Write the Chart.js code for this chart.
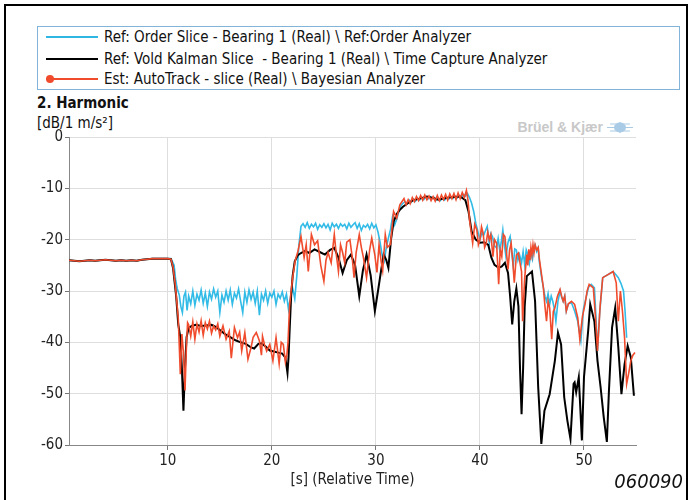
<!DOCTYPE html>
<html>
<head>
<meta charset="utf-8">
<script src="https://cdn.jsdelivr.net/npm/chart.js@4.4.0/dist/chart.umd.min.js"></script>
<style>
  body { margin: 0; background: #fff; font-family: 'DejaVu Sans Condensed', 'DejaVu Sans', sans-serif; color: #111; }
  #page { position: relative; width: 691px; height: 500px; overflow: hidden; background: #fff; }
  #frame { position: absolute; left: 4px; top: 4px; width: 680px; height: 540px; border: 2px solid #000; }
  #legend { position: absolute; left: 37px; top: 26px; width: 641px; height: 62px; border: 1.5px solid #82b4d9; }
  .row { position: absolute; left: 0; right: 0; height: 20px; font-size: 15px; line-height: 20px; white-space: pre; }
  .swatch { position: absolute; left: 8px; top: 9px; width: 52px; height: 2px; }
  .dot { position: absolute; left: 8px; top: 6px; width: 8px; height: 8px; border-radius: 50%; background: #ef4b2c; }
  .label { position: absolute; left: 66px; top: 0; }
  #title { position: absolute; left: 37px; top: 93px; font-size: 15px; font-weight: bold; line-height: 20px; }
  #unit { position: absolute; left: 37px; top: 113px; font-size: 15px; line-height: 20px; }
  #logo { position: absolute; left: 500px; top: 119px; width: 103px; text-align: right; font-family: 'Liberation Sans', sans-serif; font-weight: bold; font-size: 14px; line-height: 17px; color: #c8c8c8; }
  #logoMark { position: absolute; left: 607px; top: 122px; }
  #chartBox { position: absolute; left: 0; top: 126px; width: 691px; height: 374px; }
  #code { position: absolute; right: 8px; top: 468px; font-size: 20px; font-style: italic; line-height: 26px; }
</style>
</head>
<body>
<div id="page">
  <div id="frame"></div>
  <div id="legend">
    <div class="row" style="top:0px"><div class="swatch" style="background:#2db7e2"></div><span class="label">Ref: Order Slice - Bearing 1 (Real) \ Ref:Order Analyzer</span></div>
    <div class="row" style="top:21.5px"><div class="swatch" style="background:#000"></div><span class="label">Ref: Vold Kalman Slice  - Bearing 1 (Real) \ Time Capture Analyzer</span></div>
    <div class="row" style="top:42px"><div class="swatch" style="background:#ef4b2c"></div><div class="dot"></div><span class="label">Est: AutoTrack - slice (Real) \ Bayesian Analyzer</span></div>
  </div>
  <div id="title">2. Harmonic</div>
  <div id="unit">[dB/1 m/s²]</div>
  <div id="logo">Brüel &amp; Kjær</div>
  <svg id="logoMark" width="26" height="11" viewBox="0 0 26 11">
    <ellipse cx="13" cy="5.5" rx="6" ry="5" fill="#a9cbe6"/>
    <path d="M0 5.5H26M3 2H23M3 9H23M13 0V11" stroke="#a9cbe6" stroke-width="1.2"/>
  </svg>
  <div id="chartBox"><canvas id="harmonicChart"></canvas></div>
  <div id="code">060090</div>
</div>

<script>
// steady part before the run-down, shared by all three traces
const flatTime = [0.5, 1, 1.5, 2, 2.5, 3, 3.5, 4, 4.5, 5, 5.5, 6, 6.5, 7, 7.5, 8, 8.5, 9, 9.5, 10];
const flatDb = [-24.0, -24.1, -24.2, -24.1, -24.0, -24.1, -24.0, -23.9, -24.0, -24.1, -24.0, -24.1, -24.0, -24.1, -23.9, -23.8, -23.7, -23.7, -23.7, -23.7];

// Ref: Order Slice (cyan)
const orderTime = [
  10.3, 10.6, 10.75, 10.9, 11.1, 11.25, 11.4, 11.55, 11.7, 11.85,
  12.0, 12.2, 12.4, 12.6, 12.8, 13.0, 13.2, 13.4, 13.6, 13.8,
  14.0, 14.2, 14.4, 14.6, 14.8, 15.0, 15.2, 15.4, 15.6, 15.8,
  16.0, 16.2, 16.4, 16.6, 16.8, 17.0, 17.2, 17.4, 17.6, 17.8,
  18.0, 18.2, 18.4, 18.6, 18.8, 19.0, 19.2, 19.4, 19.6, 19.8,
  20.0, 20.2, 20.4, 20.6, 20.8, 21.0, 21.2, 21.4, 21.6, 21.8,
  22.0, 22.2, 22.4, 22.6, 22.8, 23.0, 23.2, 23.4, 23.6, 23.8,
  24.0, 24.2, 24.4, 24.6, 24.8, 25.0, 25.2, 25.4, 25.6, 25.8,
  26.0, 26.2, 26.4, 26.6, 26.8, 27.0, 27.2, 27.4, 27.6, 27.8,
  28.0, 28.2, 28.4, 28.6, 28.8, 29.0, 29.2, 29.4, 29.6, 29.8,
  30.0, 30.2, 30.4, 30.6, 30.8, 31.0, 31.2, 31.4, 31.6, 31.8,
  32.0, 32.2, 32.4, 32.6, 32.8, 33.0, 33.2, 33.4, 33.6, 33.8,
  34.0, 34.2, 34.4, 34.6, 34.8, 35.0, 35.2, 35.4, 35.6, 35.8,
  36.0, 36.2, 36.4, 36.6, 36.8, 37.0, 37.2, 37.4, 37.6, 37.8,
  38.0, 38.2, 38.4, 38.6, 38.8, 39.0, 39.2, 39.4, 39.6, 39.8,
  40.0, 40.2, 40.35, 40.5, 40.7, 40.9, 41.05, 41.2, 41.4, 41.6,
  41.75, 41.9, 42.05, 42.2, 42.35, 42.5, 42.7, 42.9, 43.05, 43.2,
  43.35, 43.5, 43.65, 43.8, 44.0, 44.15, 44.3, 44.45, 44.6, 44.75,
  44.9, 45.05, 45.2, 45.3, 45.45, 45.6, 45.7, 45.9, 46.1, 46.25,
  46.4, 46.55, 46.7, 46.85, 47.0, 47.15, 47.3, 47.5, 47.7, 47.85,
  48.0, 48.15, 48.3, 48.5, 48.8, 49.1, 49.4, 49.7, 49.95, 50.2,
  50.45, 50.7, 51.0, 51.15, 51.3, 51.5, 51.8, 52.3, 52.8, 53.05,
  53.3, 53.55, 53.8, 53.95, 54.1
];
const orderDb = [
  -23.7, -25.0, -27.8, -29.5, -30.8, -33.0, -34.2, -31.0, -30.2, -33.8,
  -31.0, -32.5, -30.0, -32.8, -30.6, -31.8, -29.8, -32.4, -30.4, -33.0,
  -30.2, -31.6, -29.6, -31.2, -30.0, -34.2, -30.8, -32.2, -30.0, -31.8,
  -29.8, -32.6, -30.4, -31.4, -29.6, -32.0, -34.2, -30.2, -32.2, -29.8,
  -31.6, -30.2, -32.4, -30.0, -34.7, -30.6, -31.8, -30.0, -32.4, -30.4,
  -31.2, -30.0, -32.6, -30.6, -31.4, -30.2, -32.0, -30.6, -33.6, -31.0,
  -29.5, -31.5, -27.0, -21.0, -17.4, -16.9, -17.6, -16.7, -17.8, -17.0,
  -17.5, -16.8, -18.0, -17.1, -17.6, -16.9, -17.7, -17.0, -18.1, -16.8,
  -17.5, -17.0, -17.8, -16.9, -17.4, -17.0, -17.9, -16.8, -17.6, -17.1,
  -16.7, -17.8, -16.9, -18.2, -17.2, -17.6, -17.0, -17.9, -16.8, -17.7,
  -17.1, -18.5, -20.5, -23.0, -24.2, -21.5, -19.7, -18.0, -15.5, -17.1,
  -16.0, -14.5, -13.4, -12.9, -12.6, -13.0, -12.3, -12.7, -12.1, -12.5,
  -11.9, -12.3, -11.8, -12.2, -11.7, -12.1, -11.6, -12.0, -11.8, -12.3,
  -12.0, -12.4, -11.9, -12.3, -11.8, -12.1, -11.6, -12.0, -11.5, -11.9,
  -11.4, -11.8, -11.2, -11.5, -11.0, -11.8, -12.9, -14.5, -16.8, -18.4,
  -20.0, -18.6, -19.2, -18.4, -17.4, -20.7, -18.8, -19.4, -21.2, -21.6,
  -19.8, -22.0, -20.5, -18.1, -21.0, -23.3, -20.5, -19.4, -22.5, -25.2,
  -21.8, -22.0, -24.0, -22.9, -24.5, -22.3, -24.9, -22.0, -22.9, -24.6,
  -22.6, -23.8, -21.4, -21.0, -22.3, -21.6, -24.2, -27.0, -29.4, -31.0,
  -32.0, -30.5, -32.6, -31.0, -32.0, -33.5, -35.9, -32.0, -30.0, -31.2,
  -32.0, -31.0, -33.9, -32.5, -32.3, -33.9, -35.9, -39.7, -33.5, -31.3,
  -29.2, -28.7, -29.4, -35.0, -41.7, -34.5, -27.4, -26.8, -26.2, -26.8,
  -27.4, -28.5, -30.0, -34.0, -39.1
];

// Ref: Vold Kalman Slice (black)
const kalmanTime = [
  10.3, 10.5, 10.8, 11.0, 11.2, 11.35, 11.5, 11.65, 11.8, 12.0,
  12.3, 12.7, 13.2, 13.7, 14.2, 14.6, 15.0, 15.5, 16.0, 16.5,
  17.0, 17.5, 18.0, 18.3, 18.7, 19.0, 19.4, 19.8, 20.2, 20.6,
  21.0, 21.3, 21.5, 21.6, 21.7, 21.85, 22.0, 22.2, 22.5, 22.8,
  23.2, 23.6, 24.1, 24.6, 25.1, 25.6, 26.0, 26.4, 26.8, 27.2,
  27.6, 28.0, 28.4, 28.75, 29.1, 29.5, 29.9, 30.2, 30.5, 30.75,
  31.0, 31.2, 31.45, 31.7, 32.0, 32.3, 32.6, 33.0, 33.6, 34.2,
  34.9, 35.5, 36.0, 36.5, 37.0, 37.5, 38.1, 38.6, 38.9, 39.2,
  39.6, 40.0, 40.4, 40.8, 41.1, 41.4, 41.8, 42.1, 42.4, 42.7,
  42.9, 43.1, 43.3, 43.5, 43.7, 43.85, 44.0, 44.15, 44.3, 44.5,
  45.0, 45.3, 45.6, 45.9, 46.2, 46.7, 47.2, 47.5, 47.8, 48.1,
  48.4, 48.7, 49.0, 49.1, 49.25, 49.5, 49.8, 50.0, 50.4, 50.6,
  51.0, 51.3, 51.6, 51.9, 52.2, 52.4, 52.7, 53.0, 53.3, 53.6,
  53.9, 54.2, 54.5, 54.8
];
const kalmanDb = [
  -23.8, -25.5, -31.0, -36.5, -39.0, -45.0, -53.3, -45.0, -39.0, -37.2,
  -36.8, -36.6, -36.8, -36.7, -36.6, -37.0, -37.6, -38.4, -39.0, -39.6,
  -40.0, -40.3, -41.0, -41.2, -40.3, -40.2, -40.8, -41.6, -41.8, -42.0,
  -42.2, -43.0, -46.0, -43.0, -38.0, -31.0, -27.0, -24.2, -23.0, -22.6,
  -22.2, -22.6, -21.9, -22.4, -22.9, -22.0, -21.6, -23.5, -26.5, -24.0,
  -22.9, -25.0, -31.0, -26.0, -22.9, -27.0, -33.9, -30.0, -26.0, -22.9,
  -24.0, -25.5, -20.0, -16.5, -15.0, -14.2, -13.6, -13.0, -12.3, -12.0,
  -11.6, -11.9, -12.2, -12.0, -11.8, -11.7, -11.6, -12.3, -14.5, -18.4,
  -20.0, -20.6, -20.5, -21.0, -23.5, -24.9, -25.5, -25.2, -24.5, -26.5,
  -31.0, -36.5, -32.0, -29.5, -33.0, -45.0, -54.0, -45.0, -33.0, -27.1,
  -26.2, -32.0, -48.8, -59.8, -53.3, -50.1, -43.6, -38.1, -40.4, -50.7,
  -55.2, -58.8, -48.1, -47.8, -49.7, -46.8, -59.1, -46.8, -37.8, -32.6,
  -35.9, -43.6, -48.8, -54.6, -59.4, -49.4, -37.1, -33.3, -41.0, -50.1,
  -44.3, -40.7, -42.9, -50.4
];

// Est: AutoTrack slice (red)
const autoTime = [
  10.3, 10.5, 10.7, 10.9, 11.0, 11.2, 11.35, 11.5, 11.65, 11.8,
  11.9, 12.0, 12.2, 12.4, 12.6, 12.8, 13.0, 13.2, 13.4, 13.6,
  13.8, 14.0, 14.2, 14.4, 14.6, 14.8, 15.0, 15.3, 15.6, 15.9,
  16.1, 16.4, 16.7, 16.9, 17.1, 17.4, 17.7, 18.0, 18.2, 18.5,
  18.8, 19.0, 19.1, 19.3, 19.5, 19.8, 20.1, 20.4, 20.7, 20.9,
  21.1, 21.3, 21.45, 21.55, 21.7, 21.85, 22.0, 22.25, 22.5, 22.8,
  23.1, 23.3, 23.5, 23.8, 24.1, 24.4, 24.7, 25.0, 25.2, 25.4,
  25.7, 26.0, 26.2, 26.4, 26.6, 26.8, 27.0, 27.2, 27.5, 27.7,
  27.9, 28.1, 28.4, 28.6, 28.8, 29.1, 29.4, 29.6, 29.9, 30.1,
  30.3, 30.5, 30.65, 30.9, 31.1, 31.4, 31.7, 32.0, 32.3, 32.5,
  32.7, 32.9, 33.1, 33.3, 33.5, 33.7, 33.9, 34.1, 34.3, 34.5,
  34.7, 34.9, 35.1, 35.3, 35.5, 35.7, 35.9, 36.1, 36.3, 36.5,
  36.7, 36.9, 37.1, 37.3, 37.5, 37.7, 37.9, 38.1, 38.3, 38.5,
  38.7, 38.85, 39.0, 39.3, 39.5, 39.7, 39.85, 40.0, 40.15, 40.3,
  40.45, 40.6, 40.75, 40.9, 41.05, 41.25, 41.4, 41.6, 41.8, 41.95,
  42.1, 42.25, 42.4, 42.55, 42.7, 42.85, 43.0, 43.15, 43.3, 43.5,
  43.7, 43.85, 44.0, 44.1, 44.3, 44.5, 44.6, 44.7, 44.8, 44.9,
  45.0, 45.1, 45.2, 45.3, 45.45, 45.6, 45.7, 45.9, 46.1, 46.25,
  46.4, 46.55, 46.7, 46.9, 47.05, 47.2, 47.45, 47.7, 47.85, 48.0,
  48.15, 48.3, 48.5, 48.8, 49.1, 49.4, 49.6, 49.85, 50.1, 50.3,
  50.5, 50.9, 51.1, 51.3, 51.55, 51.8, 52.3, 52.8, 53.1, 53.3,
  53.5, 53.7, 53.9, 54.1, 54.3, 54.5, 54.7, 54.9
];
const autoDb = [
  -23.8, -25.3, -28.5, -33.0, -35.2, -46.2, -38.4, -42.0, -49.4, -40.0,
  -36.2, -36.6, -38.8, -36.0, -39.4, -36.4, -38.0, -35.8, -38.6, -36.2,
  -37.4, -35.9, -38.2, -36.8, -37.6, -36.4, -38.8, -36.8, -39.4, -37.8,
  -43.1, -37.1, -39.1, -38.0, -41.7, -38.1, -43.3, -41.0, -39.0, -38.1,
  -39.7, -42.5, -38.8, -40.5, -41.7, -40.4, -43.6, -39.1, -44.2, -40.0,
  -40.4, -43.8, -42.3, -40.0, -33.0, -30.0, -27.4, -24.0, -22.3, -19.4,
  -23.5, -21.0, -26.2, -19.0, -21.0, -20.2, -25.0, -28.1, -24.0, -22.5,
  -24.5, -19.0, -23.0, -26.2, -21.0, -22.5, -24.5, -20.5, -20.0, -23.0,
  -27.4, -22.5, -19.0, -21.5, -23.5, -27.4, -22.0, -19.7, -23.0, -26.4,
  -21.0, -24.2, -26.0, -19.0, -21.5, -20.9, -14.5, -15.8, -13.2, -12.6,
  -12.0, -13.2, -12.2, -13.0, -11.8, -12.6, -11.6, -12.4, -11.4, -12.3,
  -11.3, -12.2, -11.5, -12.4, -11.6, -12.5, -11.4, -12.4, -11.3, -12.2,
  -11.2, -12.3, -11.1, -12.0, -11.0, -12.2, -10.9, -12.0, -10.8, -11.8,
  -10.4, -12.3, -16.2, -20.7, -17.0, -18.1, -21.0, -20.0, -17.5, -18.7,
  -21.5, -20.7, -18.5, -20.0, -19.0, -23.3, -20.0, -20.7, -28.7, -22.0,
  -23.3, -19.0, -19.4, -22.5, -25.8, -22.0, -20.7, -24.0, -28.4, -23.0,
  -22.6, -24.5, -26.2, -35.9, -27.5, -22.9, -25.0, -21.9, -24.0, -21.5,
  -23.0, -21.0, -22.5, -21.0, -22.0, -21.5, -23.6, -26.5, -29.4, -33.0,
  -35.9, -32.0, -33.3, -39.4, -34.0, -33.3, -31.0, -29.7, -31.0, -32.0,
  -31.0, -33.9, -32.5, -32.0, -32.6, -35.2, -39.4, -35.0, -32.6, -30.0,
  -28.7, -29.4, -35.0, -41.7, -33.0, -27.4, -26.8, -26.2, -28.4, -35.9,
  -30.0, -34.0, -39.1, -48.1, -46.0, -43.6, -42.5, -42.0
];

const xTicks = [10, 20, 30, 40, 50];
const yTicks = [0, -10, -20, -30, -40, -50, -60];

function toPoints(times, values) {
    const pts = flatTime.map((t, i) => ({ x: t, y: flatDb[i] }));
    times.forEach((t, i) => pts.push({ x: t, y: values[i] }));
    return pts;
}

const tickFont = { family: "'DejaVu Sans Condensed', 'DejaVu Sans', sans-serif", size: 15 };

document.addEventListener('DOMContentLoaded', function () {
    const ctx = document.getElementById('harmonicChart').getContext('2d');
    const harmonicChart = new Chart(ctx, {
        type: 'line',
        data: {
            datasets: [
                {
                    label: 'Ref: Order Slice - Bearing 1 (Real) \\ Ref:Order Analyzer',
                    data: toPoints(orderTime, orderDb),
                    borderColor: '#31bbe6',
                    borderWidth: 1.6,
                    order: 2
                },
                {
                    label: 'Ref: Vold Kalman Slice  - Bearing 1 (Real) \\ Time Capture Analyzer',
                    data: toPoints(kalmanTime, kalmanDb),
                    borderColor: '#000000',
                    borderWidth: 2,
                    order: 1
                },
                {
                    label: 'Est: AutoTrack - slice (Real) \\ Bayesian Analyzer',
                    data: toPoints(autoTime, autoDb),
                    borderColor: '#ef4b2c',
                    borderWidth: 1.6,
                    order: 0
                }
            ]
        },
        options: {
            responsive: true,
            maintainAspectRatio: false,
            animation: false,
            clip: { left: 0, top: 0, right: 0, bottom: 0 },
            elements: { point: { radius: 0 }, line: { tension: 0, fill: false } },
            layout: { padding: { top: 9, right: 55, left: 0, bottom: 0 } },
            plugins: { legend: { display: false }, tooltip: { enabled: false } },
            scales: {
                x: {
                    type: 'linear',
                    min: 0.5,
                    max: 55,
                    afterBuildTicks: scale => { scale.ticks = xTicks.map(v => ({ value: v })); },
                    afterFit: scale => { scale.height = 55; },
                    grid: { color: '#dedede', tickColor: '#777', tickLength: 5 },
                    border: { color: '#888', width: 1 },
                    ticks: { font: tickFont, color: '#222', padding: 2, maxRotation: 0 },
                    title: {
                        display: true,
                        text: '[s] (Relative Time)',
                        font: tickFont,
                        color: '#222',
                        padding: { top: 0, bottom: 11 }
                    }
                },
                y: {
                    min: -60,
                    max: 0,
                    afterBuildTicks: scale => { scale.ticks = yTicks.map(v => ({ value: v })); },
                    afterFit: scale => { scale.width = 69; },
                    grid: { color: '#dedede', tickColor: '#777', tickLength: 4 },
                    border: { color: '#888', width: 1 },
                    ticks: { font: tickFont, color: '#222', padding: 2 }
                }
            }
        }
    });
});
</script>
</body>
</html>
